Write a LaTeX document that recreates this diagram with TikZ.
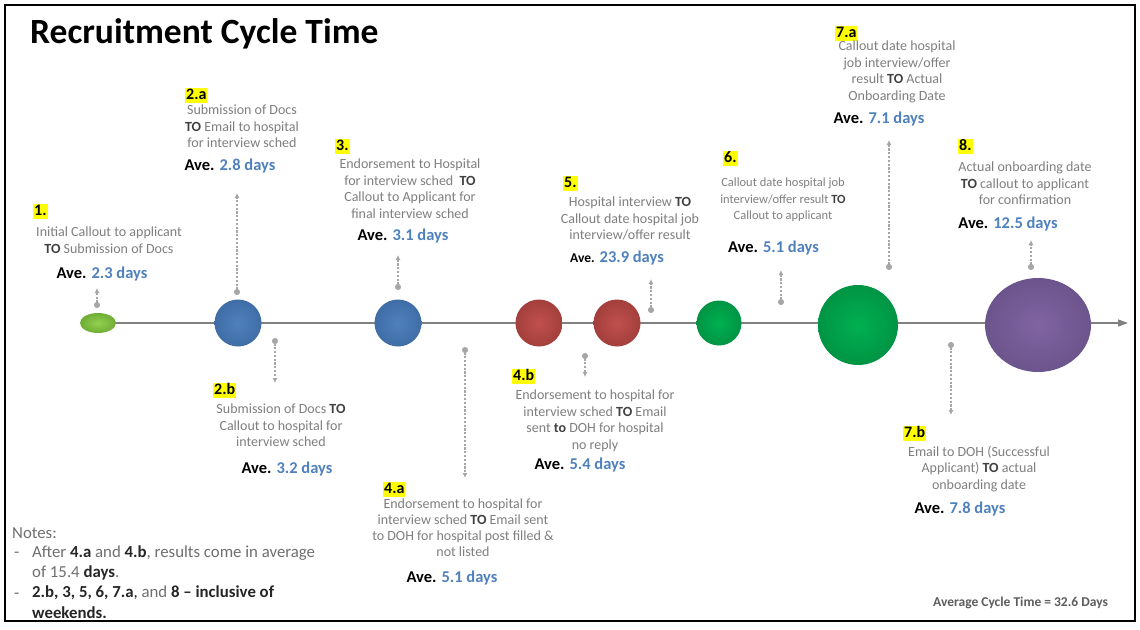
\documentclass[tikz,border=0pt]{standalone}
\usepackage{fontspec}
\setmainfont{Carlito}
\usetikzlibrary{arrows.meta,shapes.geometric,backgrounds}
\definecolor{bodygrey}{HTML}{7F7F7F}
\definecolor{togrey}{HTML}{404040}
\definecolor{aveblue}{HTML}{4F81BD}
\definecolor{hl}{HTML}{FFFF00}
\definecolor{lineg}{HTML}{808080}
\definecolor{dotg}{HTML}{A6A6A6}
\definecolor{notegrey}{HTML}{6F6F6F}
\definecolor{notedark}{HTML}{262626}
\definecolor{lgreen}{HTML}{92D050}
\definecolor{lgreenD}{HTML}{6FAE35}
\definecolor{cblue}{HTML}{4F81BD}
\definecolor{cblueD}{HTML}{3F6DA6}
\definecolor{cred}{HTML}{C0504D}
\definecolor{credD}{HTML}{A33F3C}
\definecolor{cgreen}{HTML}{00B050}
\definecolor{cgreenD}{HTML}{009444}
\definecolor{cpurple}{HTML}{8064A2}
\definecolor{cpurpleD}{HTML}{6C548C}
\newcommand\tob{\textcolor{togrey}{\textbf{TO}}}
\newcommand\avel[1]{Ave. \textcolor{aveblue}{#1}}
\tikzset{
 body/.style={font=\fontsize{14}{16.5}\selectfont, text=bodygrey, align=center, anchor=north, inner sep=0pt},
 avetxt/.style={font=\fontsize{16.5}{18}\selectfont\bfseries, anchor=base, inner sep=0pt, text=black},
 numlab/.style={fill=hl, font=\fontsize{16}{18}\selectfont\bfseries, inner xsep=1pt, inner ysep=1.5pt, text height=10.5pt, text depth=2pt, anchor=base west, text=black},
 callout/.style={draw=dotg, line width=1.1pt, dash pattern=on 2.2pt off 1.6pt, {Circle[length=6pt]}-{Latex[length=5pt,width=5pt]}},
 timeline/.style={draw=lineg, line width=1.3pt, -{Triangle[length=10pt,width=7pt]}},
 ballnode/.style={circle, inner sep=0pt, minimum size=#1},
 notes/.style={font=\fontsize{16.8}{20.5}\selectfont, text=notegrey, align=left, inner sep=0pt},
}
\begin{document}
\begin{tikzpicture}[x=1pt,y=-1pt]
\useasboundingbox (0,0) rectangle (1140,629);
\draw[line width=2.5pt] (5,5) rectangle (1135,621);

% title
\node[anchor=base west, inner sep=0pt, font=\fontsize{35.5}{40}\selectfont\bfseries] (title) at (30,43) {Recruitment Cycle Time};

% timeline circles
\node[ellipse, minimum width=36pt, minimum height=20pt, inner sep=0pt, shading=radial, inner color=lgreen, outer color=lgreenD] (c1) at (98,323) {};
\node[ballnode=47pt, shading=radial, inner color=cblue, outer color=cblueD] (c2) at (238,323) {};
\node[ballnode=47pt, shading=radial, inner color=cblue, outer color=cblueD] (c3) at (398,323) {};
\node[ballnode=47pt, shading=radial, inner color=cred, outer color=credD] (c4) at (539,323) {};
\node[ballnode=47pt, shading=radial, inner color=cred, outer color=credD] (c5) at (617,323) {};
\node[ballnode=45pt, shading=radial, inner color=cgreen, outer color=cgreenD] (c6) at (719,323) {};
\node[ballnode=80pt, shading=radial, inner color=cgreen, outer color=cgreenD] (c7) at (858,325) {};
\node[ellipse, minimum width=106pt, minimum height=94pt, inner sep=0pt, shading=radial, inner color=cpurple, outer color=cpurpleD] (c8) at (1038,325) {};
\coordinate (tlend) at (1128,323);
\begin{pgfonlayer}{background}
\fill[white] (0,0) rectangle (1140,629);
\draw[timeline] (c1.center) -- (tlend);
\end{pgfonlayer}

% callout connectors
\coordinate (k1s) at (97,308);  \coordinate (k1e) at (97,288);
\coordinate (k2as) at (237,295); \coordinate (k2ae) at (237,193);
\coordinate (k2bs) at (275,338); \coordinate (k2be) at (275,383);
\coordinate (k3s) at (398,290); \coordinate (k3e) at (398,255);
\coordinate (k4as) at (465,347); \coordinate (k4ae) at (465,478);
\coordinate (k4bs) at (585,353); \coordinate (k4be) at (585,377);
\coordinate (k5s) at (651,313); \coordinate (k5e) at (651,279);
\coordinate (k6s) at (781,305); \coordinate (k6e) at (781,270);
\coordinate (k7as) at (889,270); \coordinate (k7ae) at (889,140);
\coordinate (k7bs) at (951,342); \coordinate (k7be) at (951,415);
\coordinate (k8s) at (1031,270); \coordinate (k8e) at (1031,240);
\foreach \k in {1,2a,2b,3,4a,4b,5,6,7a,7b,8}{\draw[callout] (k\k s) -- (k\k e);}

% block 1
\node[numlab] (l1) at (33,215.5) {1.};
\node[body] (b1) at (109,227) {Initial Callout to applicant\\\tob{} Submission of Docs};
\node[avetxt] (a1) at (102,278.5) {\avel{2.3 days}};

% block 2.a
\node[numlab] (l2a) at (185,99.5) {2.a};
\node[body] (b2a) at (242,105) {Submission of Docs\\\tob{} Email to hospital\\for interview sched};
\node[avetxt] (a2a) at (230,170.5) {\avel{2.8 days}};

% block 3
\node[numlab] (l3) at (335,150.5) {3.};
\node[body] (b3) at (410,159) {Endorsement to Hospital\\for interview sched~~\tob\\Callout to Applicant for\\final interview sched};
\node[avetxt] (a3) at (403,240.5) {\avel{3.1 days}};

% block 5
\node[numlab] (l5) at (563,187.5) {5.};
\node[body] (b5) at (630,197) {Hospital interview \tob\\Callout date hospital job\\interview/offer result};
\node[avetxt] (a5) at (617,262.5) {{\fontsize{13.5}{16}\selectfont Ave.} \textcolor{aveblue}{23.9 days}};

% block 6
\node[numlab] (l6) at (723,162.5) {6.};
\node[body, font=\fontsize{12.5}{16.5}\selectfont] (b6) at (783,178) {Callout date hospital job\\interview/offer result \tob\\Callout to applicant};
\node[avetxt] (a6) at (773.5,252.5) {\avel{5.1 days}};

% block 7.a
\node[numlab] (l7a) at (835,37.5) {7.a};
\node[body] (b7a) at (897,41) {Callout date hospital\\job interview/offer\\result \tob{} Actual\\Onboarding Date};
\node[avetxt] (a7a) at (879,123.5) {\avel{7.1 days}};

% block 8
\node[numlab] (l8) at (958,150.5) {8.};
\node[body] (b8) at (1025,162) {Actual onboarding date\\\tob{} callout to applicant\\for confirmation};
\node[avetxt] (a8) at (1008,228.5) {\avel{12.5 days}};

% block 2.b
\node[numlab] (l2b) at (213,394.5) {2.b};
\node[body] (b2b) at (281,404) {Submission of Docs \tob\\Callout to hospital for\\interview sched};
\node[avetxt] (a2b) at (287,473.5) {\avel{3.2 days}};

% block 4.a
\node[numlab] (l4a) at (383,493.5) {4.a};
\node[body, font=\fontsize{14}{16}\selectfont] (b4a) at (463,499) {Endorsement to hospital for\\interview sched \tob{} Email sent\\to DOH for hospital post filled \&\\not listed};
\node[avetxt] (a4a) at (452,582.5) {\avel{5.1 days}};

% block 4.b
\node[numlab] (l4b) at (512,380.5) {4.b};
\node[body] (b4b) at (595,390) {Endorsement to hospital for\\interview sched \tob{} Email\\sent \textcolor{togrey}{\textbf{to}} DOH for hospital\\no reply};
\node[avetxt] (a4b) at (580,469.5) {\avel{5.4 days}};

% block 7.b
\node[numlab] (l7b) at (903,437.5) {7.b};
\node[body] (b7b) at (979,446) {Email to DOH (Successful\\Applicant) \tob{} actual\\onboarding date};
\node[avetxt] (a7b) at (960,513.5) {\avel{7.8 days}};

% notes
\node[notes, anchor=base west] (nt) at (12,538.5) {Notes:};
\node[notes, anchor=base west] (d1) at (14,557.5) {-};
\node[notes, anchor=north west] (n1) at (32,545.5) {After \textcolor{notedark}{\textbf{4.a}} and \textcolor{notedark}{\textbf{4.b}}, results come in average\\of 15.4 \textcolor{notedark}{\textbf{days}}.};
\node[notes, anchor=base west] (d2) at (14,598) {-};
\node[notes, anchor=north west, text=notedark] (n2) at (32,586) {\textbf{2.b, 3, 5, 6, 7.a}, \textcolor{notegrey}{and} \textbf{8 -- inclusive of}\\\textbf{weekends.}};

\node[anchor=base west, inner sep=0pt, font=\fontsize{13.5}{16}\selectfont\bfseries, text=togrey!85] (avg) at (933,606) {Average Cycle Time = 32.6 Days};
\end{tikzpicture}
\end{document}
